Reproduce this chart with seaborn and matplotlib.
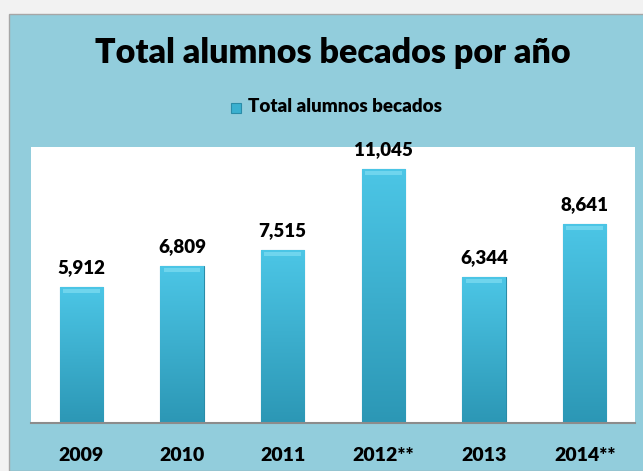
import numpy as np
import matplotlib.pyplot as plt
import seaborn as sns
from matplotlib.patches import Rectangle
from matplotlib.colors import LinearSegmentedColormap

years = ["2009", "2010", "2011", "2012**", "2013", "2014**"]
becados = [5912, 6809, 7515, 11045, 6344, 8641]
series_name = "Total alumnos becados"

BG_BLUE = "#92CDDC"
BAR_TOP = "#4CC6E6"
BAR_BOTTOM = "#2C97B5"
FONT = "Lato"


def main():
    sns.set_style("white")
    plt.rcParams["font.family"] = [FONT, "DejaVu Sans"]
    plt.rcParams["text.color"] = "black"
    plt.rcParams["xtick.color"] = "black"

    fig = plt.figure(figsize=(6.43, 4.71), dpi=100)
    fig.patch.set_facecolor("#F2F2F2")
    fig.patches.append(Rectangle((9 / 643, 0), 1, 1 - 14 / 471, transform=fig.transFigure,
                                 facecolor=BG_BLUE, edgecolor="#A6A6A6", lw=1, zorder=-1))

    ax = fig.add_axes([31 / 643, 48 / 471, 604 / 643, 276 / 471])
    sns.barplot(x=years, y=becados, color=BAR_TOP, width=0.43, saturation=1, ax=ax)

    # vertical gradient on every bar
    cmap = LinearSegmentedColormap.from_list("bar", [BAR_BOTTOM, BAR_TOP])
    grad = np.linspace(0, 1, 256).reshape(-1, 1)
    for p in ax.patches:
        x0, y0, w, h = p.get_x(), p.get_y(), p.get_width(), p.get_height()
        im = ax.imshow(grad, extent=[x0, x0 + w, y0, y0 + h], origin="lower",
                       cmap=cmap, aspect="auto", zorder=2)
        im.set_clip_path(p)
        p.set_edgecolor("#2A8CA8")
        p.set_linewidth(0.8)
        # highlight bevel at top
        ax.add_patch(Rectangle((x0 + w * 0.08, y0 + h - 250), w * 0.84, 180,
                               facecolor="#7FDDF2", edgecolor="none", zorder=3, alpha=0.7))

    for i, v in enumerate(becados):
        ax.text(i, v + 480, f"{v:,}", ha="center", va="bottom",
                fontsize=13.5, fontweight="heavy", color="black")

    ax.set_xlim(-0.5, 5.5)
    ax.set_ylim(0, 12000)
    ax.set_yticks([])
    ax.set_facecolor("white")
    for side in ["top", "left", "right"]:
        ax.spines[side].set_visible(False)
    ax.spines["bottom"].set_color("#8C8C8C")
    ax.spines["bottom"].set_linewidth(1.5)
    ax.tick_params(axis="x", length=0, pad=17, labelsize=14)
    for lbl in ax.get_xticklabels():
        lbl.set_fontweight("heavy")

    fig.text(333 / 643, 1 - 53 / 471, "Total alumnos becados por año", ha="center", va="center",
             fontsize=24.5, fontweight="heavy")
    fig.patches.append(Rectangle((231 / 643, 1 - 113 / 471), 10 / 643, 10 / 471,
                                 transform=fig.transFigure, facecolor="#3AB0D0",
                                 edgecolor="#2A8CA8", lw=0.8))
    fig.text(248 / 643, 1 - 107 / 471, series_name, ha="left", va="center",
             fontsize=13.5, fontweight="heavy")

    fig.savefig("out.png", dpi=100, facecolor=fig.get_facecolor())
    plt.close(fig)


if __name__ == "__main__":
    main()
